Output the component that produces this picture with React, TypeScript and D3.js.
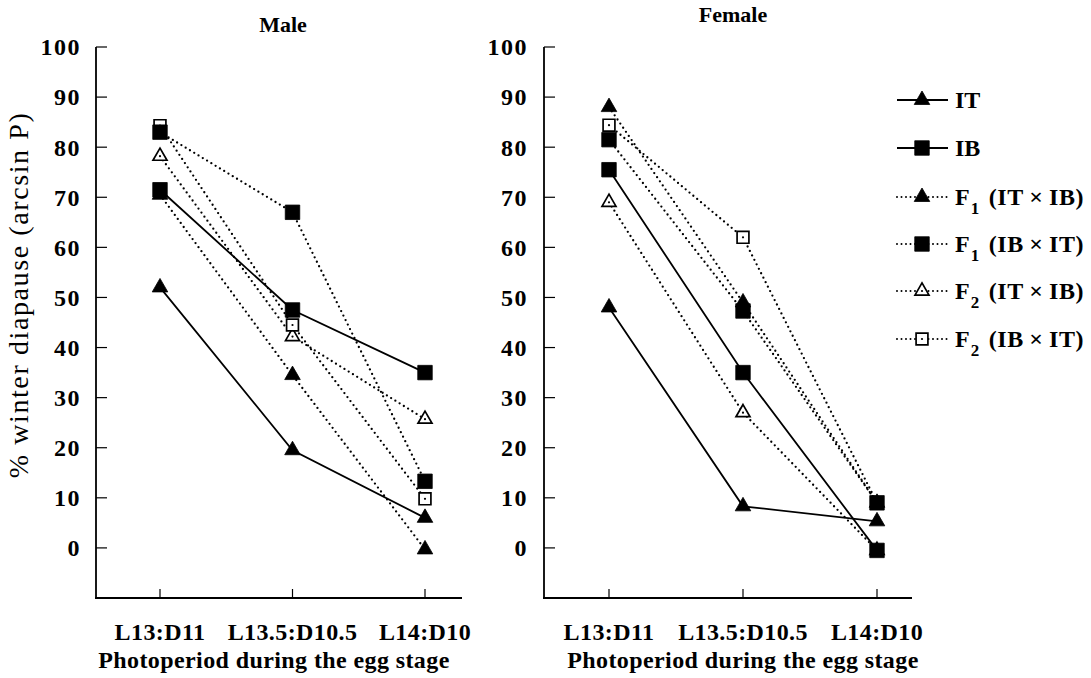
import React from "react";
import * as d3 from "d3";

const categories = ["L13:D11", "L13.5:D10.5", "L14:D10"];
const yTicks = [0, 10, 20, 30, 40, 50, 60, 70, 80, 90, 100];

// Male
const maleIT = [52, 19.5, 6];
const maleIB = [71.5, 47.5, 35];
const maleF1ITxIB = [70.5, 34.5, -0.3];
const maleF1IBxIT = [83, 67, 13.3];
const maleF2ITxIB = [78.2, 42.2, 25.7];
const maleF2IBxIT = [84.3, 44.5, 9.8];

// Female
const femaleIT = [48, 8.3, 5.3];
const femaleIB = [75.5, 35, -0.5];
const femaleF1ITxIB = [88, 49, 9];
const femaleF1IBxIT = [81.5, 47.3, 9];
const femaleF2ITxIB = [69, 27, -0.5];
const femaleF2IBxIT = [84.4, 62, 9];

type Shape = "triangle" | "square";
interface SeriesDef {
  key: string;
  label: string;
  sub?: string;
  rest?: string;
  shape: Shape;
  filled: boolean;
  dotted: boolean;
}

const seriesDefs: SeriesDef[] = [
  { key: "IT", label: "IT", shape: "triangle", filled: true, dotted: false },
  { key: "IB", label: "IB", shape: "square", filled: true, dotted: false },
  { key: "F1a", label: "F", sub: "1", rest: " (IT\u2009\u00D7\u2009IB)", shape: "triangle", filled: true, dotted: true },
  { key: "F1b", label: "F", sub: "1", rest: " (IB\u2009\u00D7\u2009IT)", shape: "square", filled: true, dotted: true },
  { key: "F2a", label: "F", sub: "2", rest: " (IT\u2009\u00D7\u2009IB)", shape: "triangle", filled: false, dotted: true },
  { key: "F2b", label: "F", sub: "2", rest: " (IB\u2009\u00D7\u2009IT)", shape: "square", filled: false, dotted: true },
];

const maleData: Record<string, number[]> = {
  IT: maleIT, IB: maleIB, F1a: maleF1ITxIB, F1b: maleF1IBxIT, F2a: maleF2ITxIB, F2b: maleF2IBxIT,
};
const femaleData: Record<string, number[]> = {
  IT: femaleIT, IB: femaleIB, F1a: femaleF1ITxIB, F1b: femaleF1IBxIT, F2a: femaleF2ITxIB, F2b: femaleF2IBxIT,
};

const FONT = "'Liberation Serif', 'Times New Roman', serif";

const yScale = d3.scaleLinear().domain([-10, 100]).range([598, 47]);

const triPath = d3.symbol().type(d3.symbolTriangle).size(105)()!;
const sqPath = d3.symbol().type(d3.symbolSquare).size(210)()!;
const openTriPath = d3.symbol().type(d3.symbolTriangle).size(85)()!;
const openSqPath = d3.symbol().type(d3.symbolSquare).size(140)()!;

function Marker({ def, x, y }: { def: SeriesDef; x: number; y: number }) {
  if (def.filled) {
    return (
      <path
        d={def.shape === "triangle" ? triPath : sqPath}
        transform={`translate(${x},${y})`}
        fill="#000"
        stroke="#000"
        strokeWidth={0.8}
      />
    );
  }
  return (
    <g transform={`translate(${x},${y})`}>
      <path
        d={def.shape === "triangle" ? openTriPath : openSqPath}
        fill="#fff"
        stroke="#000"
        strokeWidth={1.7}
      />
      <circle cx={0} cy={0} r={1.1} fill="#000" />
    </g>
  );
}

function Panel({
  title, titleX, titleY, xTitleX, data, axisX, xRange, axisEnd, labelRight,
}: {
  title: string; titleX: number; titleY: number; xTitleX: number; data: Record<string, number[]>; axisX: number;
  xRange: [number, number]; axisEnd: number; labelRight: number;
}) {
  const x = d3.scalePoint<string>().domain(categories).range(xRange);
  const line = d3
    .line<number>()
    .x((_, i) => x(categories[i])!)
    .y((d) => yScale(d));
  const axisY = yScale(-10);
  const markerOrder = [...seriesDefs].sort((a, b) => Number(a.filled) - Number(b.filled));
  return (
    <g>
      <text x={titleX} y={titleY} textAnchor="middle" fontFamily={FONT} fontWeight="bold" fontSize={22}>
        {title}
      </text>
      <line x1={axisX} x2={axisX} y1={yScale(100)} y2={axisY} stroke="#000" strokeWidth={1.8} />
      <line x1={axisX - 1} x2={axisEnd} y1={axisY} y2={axisY} stroke="#000" strokeWidth={1.8} />
      {yTicks.map((t) => (
        <g key={t}>
          <line x1={axisX} x2={axisX + 11} y1={yScale(t)} y2={yScale(t)} stroke="#000" strokeWidth={1.2} />
          <text
            x={labelRight}
            y={yScale(t)}
            dy="0.35em"
            textAnchor="end"
            fontFamily={FONT}
            fontWeight="bold"
            fontSize={24}
            letterSpacing={1.5}
          >
            {t}
          </text>
        </g>
      ))}
      {categories.map((c) => (
        <g key={c}>
          <line x1={x(c)} x2={x(c)} y1={axisY} y2={axisY - 9} stroke="#000" strokeWidth={1.2} />
          <text x={x(c)} y={640} textAnchor="middle" fontFamily={FONT} fontWeight="bold" fontSize={24} letterSpacing={0.4}>
            {c}
          </text>
        </g>
      ))}
      <text x={xTitleX} y={668} textAnchor="middle" fontFamily={FONT} fontWeight="bold" fontSize={24} letterSpacing={0.4}>
        Photoperiod during the egg stage
      </text>
      {seriesDefs.map((s) => (
        <path
          key={s.key}
          d={line(data[s.key])!}
          fill="none"
          stroke="#000"
          strokeWidth={s.dotted ? 2.3 : 1.8}
          strokeDasharray={s.dotted ? "0 5" : undefined}
          strokeLinecap={s.dotted ? "round" : "butt"}
        />
      ))}
      {markerOrder.map((s) =>
        data[s.key].map((v, i) => <Marker key={s.key + i} def={s} x={x(categories[i])!} y={yScale(v)} />)
      )}
    </g>
  );
}

const legendRows = [100, 148, 197, 244, 291, 339];

function Legend() {
  return (
    <g>
      {seriesDefs.map((s, i) => {
        const y = legendRows[i];
        return (
          <g key={s.key}>
            <line
              x1={897}
              x2={948}
              y1={y}
              y2={y}
              stroke="#000"
              strokeWidth={s.dotted ? 2 : 1.8}
              strokeDasharray={s.dotted ? "0 4.5" : undefined}
              strokeLinecap={s.dotted ? "round" : "butt"}
            />
            <Marker def={s} x={922} y={y} />
            <text x={955} y={y + 8} fontFamily={FONT} fontWeight="bold" fontSize={24}>
              {s.label}
              {s.sub && (
                <tspan fontSize={17} dy={9} dx={1}>
                  {s.sub}
                </tspan>
              )}
              {s.rest && (
                <tspan dy={s.sub ? -9 : 0} dx={3} letterSpacing={0.6}>
                  {s.rest}
                </tspan>
              )}
            </text>
          </g>
        );
      })}
    </g>
  );
}

export default function App() {
  return (
    <svg
      width={1091}
      height={678}
      style={{ display: "block", background: "#fff", position: "absolute", left: 0, top: 0 }}
    >
      <text
        transform="translate(28,295) rotate(-90)"
        textAnchor="middle"
        fontFamily={FONT}
        fontSize={28}
        letterSpacing={1.6}
      >
        % winter diapause (arcsin P)
      </text>
      <Panel
        title="Male"
        titleX={283}
        titleY={32}
        xTitleX={274}
        data={maleData}
        axisX={96}
        xRange={[160, 425]}
        axisEnd={462}
        labelRight={81}
      />
      <Panel
        title="Female"
        titleX={733}
        titleY={22}
        xTitleX={743}
        data={femaleData}
        axisX={544}
        xRange={[609, 877]}
        axisEnd={912}
        labelRight={528}
      />
      <Legend />
    </svg>
  );
}
